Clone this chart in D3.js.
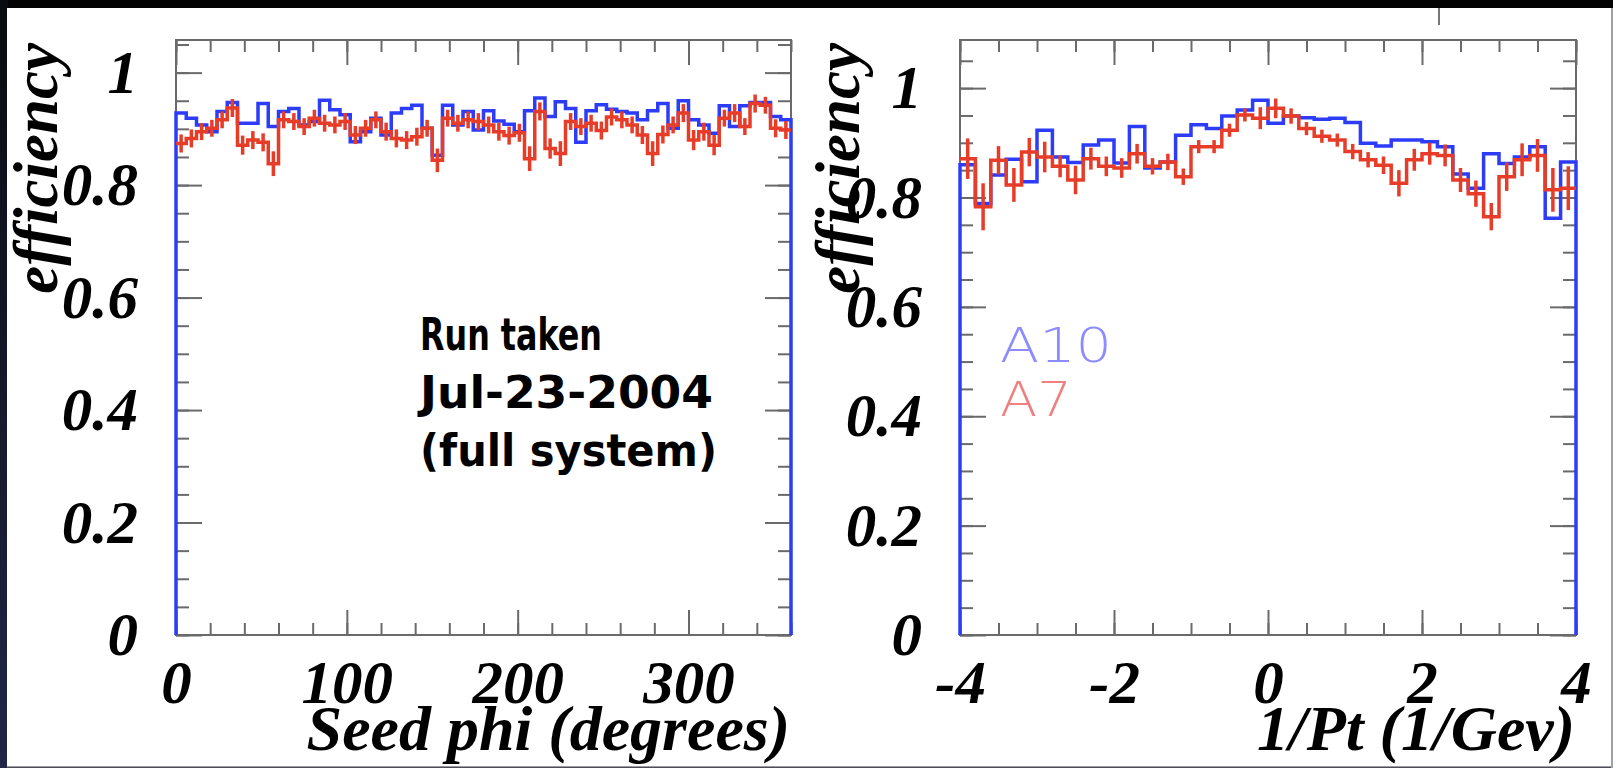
<!DOCTYPE html>
<html>
<head>
<meta charset="utf-8">
<title>Seed efficiency, A10 vs A7</title>
<script src="https://cdn.jsdelivr.net/npm/d3@7"></script>
<style>
  html, body { margin: 0; padding: 0; background: #000; }
  svg { display: block; }
</style>
</head>
<body>
<svg id="chart" width="1613" height="768"></svg>
<script>
// Efficiency per bin.
// Left panel: seed phi, 60 bins of 6 degrees (0..360).
var phiA10 = [
  0.928, 0.919, 0.907, 0.895, 0.931, 0.947, 0.910, 0.910, 0.945, 0.904,
  0.931, 0.936, 0.907, 0.913, 0.951, 0.934, 0.925, 0.877, 0.895, 0.919,
  0.889, 0.928, 0.936, 0.942, 0.901, 0.853, 0.942, 0.907, 0.931, 0.898,
  0.932, 0.914, 0.908, 0.895, 0.932, 0.955, 0.922, 0.948, 0.936, 0.876,
  0.932, 0.943, 0.935, 0.931, 0.928, 0.916, 0.932, 0.945, 0.901, 0.950,
  0.916, 0.907, 0.892, 0.941, 0.904, 0.941, 0.947, 0.947, 0.922, 0.916
];
var phiA7 = [
  0.874, 0.883, 0.895, 0.901, 0.916, 0.937, 0.871, 0.880, 0.876, 0.838,
  0.916, 0.913, 0.904, 0.919, 0.910, 0.907, 0.913, 0.889, 0.901, 0.916,
  0.895, 0.883, 0.880, 0.886, 0.901, 0.844, 0.919, 0.910, 0.916, 0.913,
  0.907, 0.895, 0.888, 0.893, 0.847, 0.931, 0.865, 0.856, 0.913, 0.904,
  0.910, 0.897, 0.921, 0.916, 0.907, 0.889, 0.856, 0.890, 0.907, 0.928,
  0.880, 0.895, 0.871, 0.919, 0.928, 0.904, 0.945, 0.942, 0.901, 0.898
];
var phiA7Err = [
  0.016, 0.016, 0.015, 0.015, 0.015, 0.016, 0.017, 0.016, 0.016, 0.022,
  0.015, 0.015, 0.015, 0.015, 0.015, 0.015, 0.015, 0.016, 0.015, 0.015,
  0.016, 0.016, 0.016, 0.016, 0.015, 0.021, 0.015, 0.015, 0.015, 0.015,
  0.015, 0.016, 0.016, 0.016, 0.022, 0.016, 0.018, 0.022, 0.015, 0.015,
  0.015, 0.016, 0.015, 0.015, 0.015, 0.016, 0.022, 0.016, 0.015, 0.016,
  0.018, 0.016, 0.018, 0.015, 0.016, 0.015, 0.016, 0.015, 0.016, 0.016
];

// Right panel: 1/Pt, 40 bins of 0.2 (-4..4).
var ptA10 = [
  0.860, 0.789, 0.841, 0.870, 0.829, 0.923, 0.874, 0.864, 0.896, 0.905,
  0.863, 0.930, 0.854, 0.865, 0.914, 0.933, 0.926, 0.949, 0.960, 0.978,
  0.936, 0.949, 0.946, 0.943, 0.945, 0.937, 0.899, 0.894, 0.905, 0.905,
  0.902, 0.893, 0.843, 0.817, 0.880, 0.862, 0.874, 0.893, 0.762, 0.865
];
var ptA7 = [
  0.871, 0.783, 0.868, 0.823, 0.883, 0.874, 0.857, 0.832, 0.871, 0.857,
  0.854, 0.880, 0.857, 0.865, 0.838, 0.893, 0.893, 0.923, 0.951, 0.945,
  0.963, 0.949, 0.926, 0.912, 0.905, 0.884, 0.869, 0.859, 0.826, 0.869,
  0.880, 0.877, 0.832, 0.807, 0.765, 0.838, 0.869, 0.877, 0.814, 0.817
];
var ptA7Err = [
  0.037, 0.043, 0.026, 0.031, 0.026, 0.028, 0.020, 0.026, 0.020, 0.018,
  0.018, 0.018, 0.015, 0.015, 0.015, 0.012, 0.012, 0.012, 0.012, 0.020,
  0.018, 0.014, 0.012, 0.012, 0.012, 0.014, 0.014, 0.016, 0.024, 0.020,
  0.020, 0.020, 0.022, 0.024, 0.025, 0.026, 0.030, 0.030, 0.040, 0.040
];

// Bin edges and tick values
var phiEdges = d3.range(0, 361, 6);
var ptEdges = d3.range(41).map(function(i) { return -4 + i * 0.2; });
var phiMajor = [0, 100, 200, 300];
var phiMinor = d3.range(0, 361, 20);
var ptMajor = [-4, -2, 0, 2, 4];
var ptMinor = d3.range(-4, 4.01, 0.5);
var effMajor = [0, 0.2, 0.4, 0.6, 0.8, 1];
var effMinor = d3.range(0, 1.051, 0.05);

var noteLines = ['Run taken', 'Jul-23-2004', '(full system)'];
var legendItems = [
  { label: 'A10', color: '#8c8cff' },
  { label: 'A7',  color: '#ee8080' }
];

var TOP = 40, BOTTOM = 635;
var BLUE = '#2d3cf8', RED = '#e63c28', FRAME = '#6a6a6a';
var LABEL_FONT = '"Liberation Serif", "Times New Roman", serif';

var svg = d3.select('#chart');

// page background: black border, bluish strip at the left, white sheet
var grad = svg.append('defs').append('linearGradient')
  .attr('id', 'edge').attr('x1', 0).attr('y1', 0).attr('x2', 0).attr('y2', 1);
grad.append('stop').attr('offset', '0%').attr('stop-color', '#0a0b10');
grad.append('stop').attr('offset', '100%').attr('stop-color', '#1f2646');
svg.append('rect').attr('width', 1613).attr('height', 768).attr('fill', '#030304');
svg.append('rect').attr('width', 8).attr('height', 768).attr('fill', 'url(#edge)');
svg.append('rect').attr('x', 7).attr('y', 8).attr('width', 1604).attr('height', 758).attr('fill', '#fff');
svg.append('rect').attr('x', 7).attr('y', 766).attr('width', 1604).attr('height', 1.5).attr('fill', '#9a9aa6');
svg.append('rect').attr('x', 1611).attr('y', 8).attr('width', 2).attr('height', 760).attr('fill', '#a0a0a8');
svg.append('line').attr('x1', 1439).attr('x2', 1439).attr('y1', 8).attr('y2', 25)
  .attr('stroke', '#777').attr('stroke-width', 2);

function stepPoints(edges, vals, toZero) {
  var pts = [];
  if (toZero) pts.push([edges[0], 0]);
  vals.forEach(function(v, i) {
    pts.push([edges[i], v]);
    pts.push([edges[i + 1], v]);
  });
  if (toZero) pts.push([edges[edges.length - 1], 0]);
  return pts;
}

function styleAxis(sel) {
  sel.select('.domain').remove();
  sel.selectAll('.tick line').attr('stroke', FRAME).attr('stroke-width', 2);
  sel.attr('font-family', LABEL_FONT).attr('font-size', 61)
    .attr('font-weight', 'bold').attr('font-style', 'italic');
  sel.selectAll('.tick text').attr('fill', '#000');
}

function drawPanel(o) {
  var x = d3.scaleLinear().domain(o.xDomain).range([o.left, o.right]);
  var y = d3.scaleLinear().domain([0, o.yMax]).range([BOTTOM, TOP]);
  var g = svg.append('g');

  g.append('rect')
    .attr('x', o.left).attr('y', TOP)
    .attr('width', o.right - o.left).attr('height', BOTTOM - TOP)
    .attr('fill', 'none').attr('stroke', FRAME).attr('stroke-width', 2);

  var yMinorVals = effMinor.filter(function(v) { return v <= o.yMax; });

  // inward ticks on all four sides, minor first
  g.append('g').attr('transform', 'translate(0,' + BOTTOM + ')')
    .call(d3.axisBottom(x).tickValues(o.xMinor).tickSize(-12).tickFormat(''))
    .call(styleAxis);
  g.append('g').attr('transform', 'translate(0,' + BOTTOM + ')')
    .call(d3.axisBottom(x).tickValues(o.xMajor).tickSize(-25).tickPadding(25)
      .tickFormat(function(d) { return String(d); }))
    .call(styleAxis);
  g.append('g').attr('transform', 'translate(0,' + TOP + ')')
    .call(d3.axisTop(x).tickValues(o.xMinor).tickSize(-12).tickFormat(''))
    .call(styleAxis);
  g.append('g').attr('transform', 'translate(0,' + TOP + ')')
    .call(d3.axisTop(x).tickValues(o.xMajor).tickSize(-25).tickFormat(''))
    .call(styleAxis);
  g.append('g').attr('transform', 'translate(' + o.left + ',0)')
    .call(d3.axisLeft(y).tickValues(yMinorVals).tickSize(-13).tickFormat(''))
    .call(styleAxis);
  g.append('g').attr('transform', 'translate(' + o.left + ',0)')
    .call(d3.axisLeft(y).tickValues(effMajor).tickSize(-26).tickPadding(38)
      .tickFormat(function(d) { return String(d); }))
    .call(styleAxis);
  g.append('g').attr('transform', 'translate(' + o.right + ',0)')
    .call(d3.axisRight(y).tickValues(yMinorVals).tickSize(-13).tickFormat(''))
    .call(styleAxis);
  g.append('g').attr('transform', 'translate(' + o.right + ',0)')
    .call(d3.axisRight(y).tickValues(effMajor).tickSize(-26).tickFormat(''))
    .call(styleAxis);

  var line = d3.line()
    .x(function(d) { return x(d[0]); })
    .y(function(d) { return y(d[1]); });

  // A10: plain histogram outline, closed down to zero at both ends
  g.append('path')
    .attr('d', line(stepPoints(o.edges, o.a10, true)))
    .attr('fill', 'none').attr('stroke', BLUE).attr('stroke-width', 3.5);

  // A7: outline plus error bars
  g.append('path')
    .attr('d', line(stepPoints(o.edges, o.a7, false)))
    .attr('fill', 'none').attr('stroke', RED).attr('stroke-width', 3.5);
  g.selectAll('line.err')
    .data(o.a7)
    .enter()
    .append('line')
    .attr('class', 'err')
    .attr('x1', function(d, i) { return x((o.edges[i] + o.edges[i + 1]) / 2); })
    .attr('x2', function(d, i) { return x((o.edges[i] + o.edges[i + 1]) / 2); })
    .attr('y1', function(d, i) { return y(d - o.err[i]); })
    .attr('y2', function(d, i) { return y(d + o.err[i]); })
    .attr('stroke', RED).attr('stroke-width', 3.5);

  // axis titles
  g.append('text')
    .attr('x', o.right - 1).attr('y', 750)
    .attr('text-anchor', 'end')
    .attr('font-family', LABEL_FONT).attr('font-size', 64)
    .attr('font-weight', 'bold').attr('font-style', 'italic')
    .text(o.xTitle);
  g.append('text')
    .attr('transform', 'translate(' + o.yTitleX + ',43) rotate(-90)')
    .attr('text-anchor', 'end')
    .attr('font-family', LABEL_FONT).attr('font-size', 63)
    .attr('font-weight', 'bold').attr('font-style', 'italic')
    .text('efficiency');

  return { x: x, y: y, g: g };
}

drawPanel({
  left: 176, right: 791, xDomain: [0, 360], yMax: 1.058,
  edges: phiEdges, a10: phiA10, a7: phiA7, err: phiA7Err,
  xMajor: phiMajor, xMinor: phiMinor,
  xTitle: 'Seed phi (degrees)', yTitleX: 57
});

drawPanel({
  left: 960, right: 1576, xDomain: [-4, 4], yMax: 1.088,
  edges: ptEdges, a10: ptA10, a7: ptA7, err: ptA7Err,
  xMajor: ptMajor, xMinor: ptMinor,
  xTitle: '1/Pt (1/Gev)', yTitleX: 859
});

// run note in the left panel
var noteWidths = [182, 293, 297];
svg.append('g').selectAll('text')
  .data(noteLines)
  .enter()
  .append('text')
  .attr('x', 420)
  .attr('y', function(d, i) { return 350 + i * 58; })
  .attr('textLength', function(d, i) { return noteWidths[i]; })
  .attr('lengthAdjust', 'spacingAndGlyphs')
  .attr('font-family', '"DejaVu Sans", Verdana, sans-serif')
  .attr('font-weight', 'bold').attr('font-size', 45)
  .attr('fill', '#000')
  .text(function(d) { return d; });

// legend in the right panel
var legendWidths = [112, 72];
svg.append('g').selectAll('text')
  .data(legendItems)
  .enter()
  .append('text')
  .attr('x', 1000)
  .attr('y', function(d, i) { return 362 + i * 54; })
  .attr('textLength', function(d, i) { return legendWidths[i]; })
  .attr('lengthAdjust', 'spacingAndGlyphs')
  .attr('font-family', '"DejaVu Sans", sans-serif')
  .attr('font-weight', 200).attr('font-size', 48)
  .attr('fill', function(d) { return d.color; })
  .text(function(d) { return d.label; });
</script>
</body>
</html>
